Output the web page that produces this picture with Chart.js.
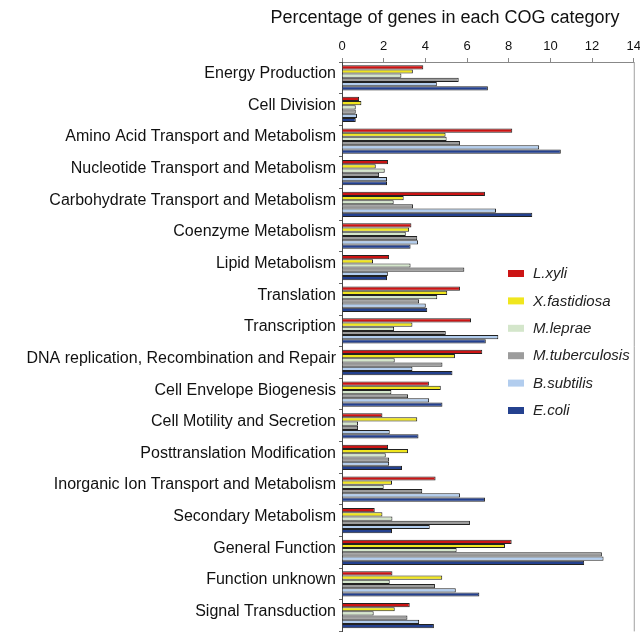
<!DOCTYPE html>
<html>
<head>
<meta charset="utf-8">
<script src="https://cdn.jsdelivr.net/npm/chart.js@4/dist/chart.umd.min.js"></script>
<style>
  html, body { margin: 0; padding: 0; background: #fff; overflow: hidden; }
  #wrap { width: 645px; height: 644px; position: relative; }
</style>
</head>
<body>
<div id="wrap"><canvas id="cogChart"></canvas></div>
<script>
// COG categories, top to bottom
const categories = [
  'Energy Production', 'Cell Division', 'Amino Acid Transport and Metabolism',
  'Nucleotide Transport and Metabolism', 'Carbohydrate Transport and Metabolism',
  'Coenzyme Metabolism', 'Lipid Metabolism', 'Translation', 'Transcription',
  'DNA replication, Recombination and Repair', 'Cell Envelope Biogenesis',
  'Cell Motility and Secretion', 'Posttranslation Modification',
  'Inorganic Ion Transport and Metabolism', 'Secondary Metabolism',
  'General Function', 'Function unknown', 'Signal Transduction'
];

const species = ['L.xyli', 'X.fastidiosa', 'M.leprae', 'M.tuberculosis', 'B.subtilis', 'E.coli'];

// % of genes per category
const lxyli   = [3.9, 0.82, 8.17, 2.21, 6.86, 3.33, 2.26, 5.66, 6.19, 6.73, 4.17, 1.94, 2.21, 4.49, 1.57, 8.14, 2.42, 3.25];
const xfast   = [3.4, 0.93, 4.97, 1.62, 2.96, 3.22, 1.49, 5.05, 3.38, 5.42, 4.74, 3.61, 3.17, 2.40, 1.94, 7.82, 4.81, 2.53];
const mleprae = [2.85, 0.66, 5.02, 2.05, 2.48, 3.06, 3.29, 4.57, 2.50, 2.53, 2.37, 0.77, 2.10, 2.00, 2.42, 5.50, 2.29, 1.52];
const mtb     = [5.6, 0.66, 5.66, 1.78, 3.41, 3.61, 5.87, 3.70, 4.98, 4.82, 3.17, 0.77, 2.26, 3.85, 6.14, 12.47, 4.46, 3.14];
const bsub    = [4.55, 0.72, 9.46, 2.16, 7.39, 3.65, 2.20, 4.02, 7.50, 3.38, 4.18, 2.29, 2.26, 5.66, 4.21, 12.55, 5.46, 3.70];
const ecoli   = [7.0, 0.66, 10.5, 2.16, 9.13, 3.29, 2.16, 4.09, 6.90, 5.30, 4.82, 3.67, 2.88, 6.86, 2.40, 11.62, 6.59, 4.41];

const xTicks = [0, 2, 4, 6, 8, 10, 12, 14];

const colors = ['#cc1414', '#f0e61e', '#d4e6cb', '#9c9c9c', '#b2cdee', '#24418f'];
const seriesData = [lxyli, xfast, mleprae, mtb, bsub, ecoli];

const font = "'Liberation Sans', Arial, sans-serif";

// title + legend box drawn on top of the plot
const overlay = {
  id: 'overlay',
  afterDraw(chart) {
    const ctx = chart.ctx;
    const area = chart.chartArea;
    ctx.save();
    // right frame line
    ctx.strokeStyle = '#a0a0a0';
    ctx.lineWidth = 1;
    ctx.beginPath();
    ctx.moveTo(area.right + 0.5, area.top);
    ctx.lineTo(area.right + 0.5, area.bottom);
    ctx.stroke();

    ctx.fillStyle = '#111';
    ctx.font = '18px ' + font;
    ctx.textAlign = 'center';
    ctx.textBaseline = 'middle';
    ctx.fillText('Percentage of genes in each COG category', 445, 18);

    ctx.textAlign = 'left';
    ctx.font = 'italic 15px ' + font;
    chart.data.datasets.forEach((ds, i) => {
      const y = 273 + i * 27.4;
      ctx.fillStyle = ds.backgroundColor;
      ctx.fillRect(508, y - 3, 16, 7);
      ctx.fillStyle = '#222';
      ctx.fillText(ds.label, 533, y + 1);
    });
    ctx.restore();
  }
};

new Chart(document.getElementById('cogChart'), {
  type: 'bar',
  data: {
    labels: categories,
    datasets: species.map((name, i) => ({
      label: name,
      data: seriesData[i],
      backgroundColor: colors[i],
      borderColor: '#222',
      borderWidth: 1,
      categoryPercentage: 0.8,
      barPercentage: 1.0
    }))
  },
  options: {
    indexAxis: 'y',
    responsive: true,
    maintainAspectRatio: false,
    animation: false,
    layout: { padding: 0 },
    plugins: {
      legend: { display: false },
      tooltip: { enabled: false }
    },
    scales: {
      x: {
        position: 'top',
        min: 0,
        max: 14,
        afterBuildTicks: (axis) => { axis.ticks = xTicks.map(v => ({ value: v })); },
        ticks: { color: '#111', font: { family: font, size: 13 }, padding: 4 },
        grid: { drawOnChartArea: false, tickLength: 4, color: '#888' },
        border: { color: '#888' },
        afterFit: (axis) => { axis.height = 62; }
      },
      y: {
        ticks: { color: '#111', font: { family: font, size: 16 }, padding: 3, labelOffset: -4 },
        grid: { offset: true, drawOnChartArea: false, tickLength: 3, color: '#666' },
        border: { color: '#444' },
        afterFit: (axis) => { axis.width = 342; }
      }
    }
  },
  plugins: [overlay]
});
</script>
</body>
</html>
